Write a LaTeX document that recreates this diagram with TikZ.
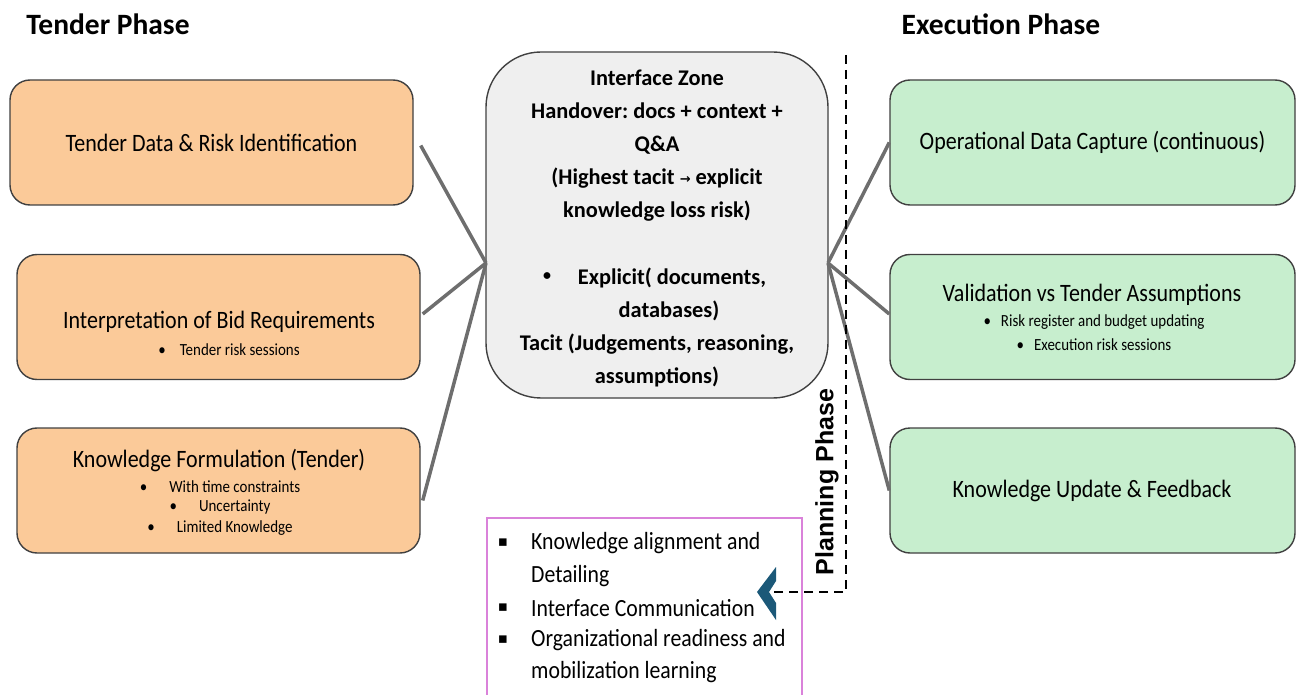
\documentclass[tikz,border=0pt]{standalone}
\usepackage{fontspec}
\setmainfont{Carlito}
\newfontfamily\narrow[FakeStretch=0.88]{Carlito}
\newfontfamily\symfont{DejaVu Sans}
\newfontfamily\arialfont{Liberation Sans}
\definecolor{tenderfill}{RGB}{251,202,153}
\definecolor{execfill}{RGB}{199,238,206}
\definecolor{zonefill}{RGB}{239,239,239}
\definecolor{boxline}{RGB}{64,64,64}
\definecolor{linkgray}{RGB}{110,110,110}
\definecolor{chevblue}{RGB}{27,88,120}
\definecolor{pinkline}{RGB}{218,130,218}
\newcommand{\fsz}[2]{\fontsize{#1}{#2}\selectfont}
\frenchspacing
\begin{document}
\begin{tikzpicture}[x=1pt,y=-1pt,
  tbox/.style={draw=boxline, line width=1.4pt, rounded corners=20pt, fill=tenderfill,
               minimum width=403pt, minimum height=125pt, inner sep=0pt},
  ebox/.style={tbox, fill=execfill, minimum width=405pt},
  zbox/.style={draw=boxline, line width=1.4pt, rounded corners=55pt, fill=zonefill,
               minimum width=342pt, minimum height=346pt, inner sep=0pt},
  link/.style={draw=linkgray, line width=3.5pt},
  heading/.style={font=\bfseries\fsz{29.5}{34}, inner sep=0pt},
  title/.style={font=\narrow\fsz{25}{30}, inner sep=0pt},
  small/.style={font=\narrow\fsz{17}{20}, inner sep=0pt},
  zonetext/.style={font=\bfseries\fsz{22.4}{33}, inner sep=0pt},
  listtext/.style={font=\narrow\fsz{24.7}{32}, inner sep=0pt, anchor=west},
  sqbullet/.style={font=\symfont\fsz{15}{18}, inner sep=0pt},
  planline/.style={draw=black, line width=1.6pt, dash pattern=on 9pt off 6pt}
]
\useasboundingbox (0,0) rectangle (1302,695);

% phase headings
\node[heading] (hT) at (108,24) {Tender Phase};
\node[heading] (hE) at (1001,24) {Execution Phase};

% tender-phase boxes
\node[tbox] (t1) at (211.5,142.5) {};
\node[tbox] (t2) at (218.5,317) {};
\node[tbox] (t3) at (218.5,490.5) {};

% execution-phase boxes
\node[ebox] (e1) at (1092.5,142.5) {};
\node[ebox] (e2) at (1092.5,317) {};
\node[ebox] (e3) at (1092.5,490.5) {};

% interface zone
\node[zbox] (z) at (657,225) {};

% connectors into the interface zone
\coordinate (zl) at (486,263);
\coordinate (zr) at (828,263);
\draw[link] ([xshift=7pt,yshift=-3pt]t1.east) -- (zl);
\draw[link] ([xshift=2pt,yshift=3pt]t2.east) -- (zl);
\draw[link] ([xshift=2pt,yshift=-10pt]t3.east) -- (zl);
\draw[link] (e1.west) -- (zr);
\draw[link] ([yshift=3pt]e2.west) -- (zr);
\draw[link] (e3.west) -- (zr);

% box texts, tender side
\node[title] (t1a) at (t1.center) {Tender Data \& Risk Identification};
\node[title] (t2a) at (219,322) {Interpretation of Bid Requirements};
\node[small] (t2b) at (229,350) {\textbullet\hspace{14pt}Tender risk sessions};
\node[title] (t3a) at (219,461) {Knowledge Formulation (Tender)};
\node[small] (t3b) at (220,487) {\textbullet\hspace{22pt}With time constraints};
\node[small] (t3c) at (220,507) {\textbullet\hspace{22pt}Uncertainty};
\node[small] (t3d) at (220,528) {\textbullet\hspace{22pt}Limited Knowledge};

% box texts, execution side
\node[title] (e1a) at (e1.center) {Operational Data Capture (continuous)};
\node[title] (e2a) at (1092,295) {Validation vs Tender Assumptions};
\node[small] (e2b) at (1094,322) {\textbullet\hspace{10pt}Risk register and budget updating};
\node[small] (e2c) at (1094,345) {\textbullet\hspace{10pt}Execution risk sessions};
\node[title] (e3a) at (1092,491) {Knowledge Update \& Feedback};

% interface zone text
\node[zonetext, align=center] (z1) at (657,146)
  {Interface Zone\\Handover: docs + context +\\Q\&A\\(Highest tacit {\symfont\fsz{13}{33}\raisebox{1pt}{→}} explicit\\knowledge loss risk)};
\node[zonetext, font=\bfseries\fsz{16}{33}] (z2) at (547,277) {\textbullet};
\node[zonetext] (z3) at (672,278) {Explicit( documents,};
\node[zonetext] (z4) at (669,311) {databases)};
\node[zonetext, align=center] (z5) at (657,360) {Tacit (Judgements, reasoning,\\assumptions)};

% planning-phase marker
\coordinate (ptop) at (846,55);
\coordinate (chev) at (768,592);
\draw[planline] (ptop) |- (chev);
\node[font=\arialfont\bfseries\fsz{25}{28}, rotate=90, inner sep=0pt] (plan) at (827,482) {Planning Phase};
\fill[chevblue] (chev) ++(-11,0) -- ++(19,-25) -- ++(0,14) -- ++(-7,11) -- ++(7,11) -- ++(0,17) -- cycle;

% planning-phase list
\draw[pinkline, line width=1.8pt] (487,696) -- (487,518) -- (802,518) -- (802,696);
\node[sqbullet] (b1) at (503,543) {▪};
\node[sqbullet] (b2) at (503,608) {▪};
\node[sqbullet] (b3) at (503,640) {▪};
\node[listtext] (l1) at (531,543) {Knowledge alignment and};
\node[listtext] (l2) at (531,576) {Detailing};
\node[listtext] (l3) at (531,608) {Interface Communication};
\node[listtext] (l4) at (531,640) {Organizational readiness and};
\node[listtext] (l5) at (531,672) {mobilization learning};
\end{tikzpicture}
\end{document}
